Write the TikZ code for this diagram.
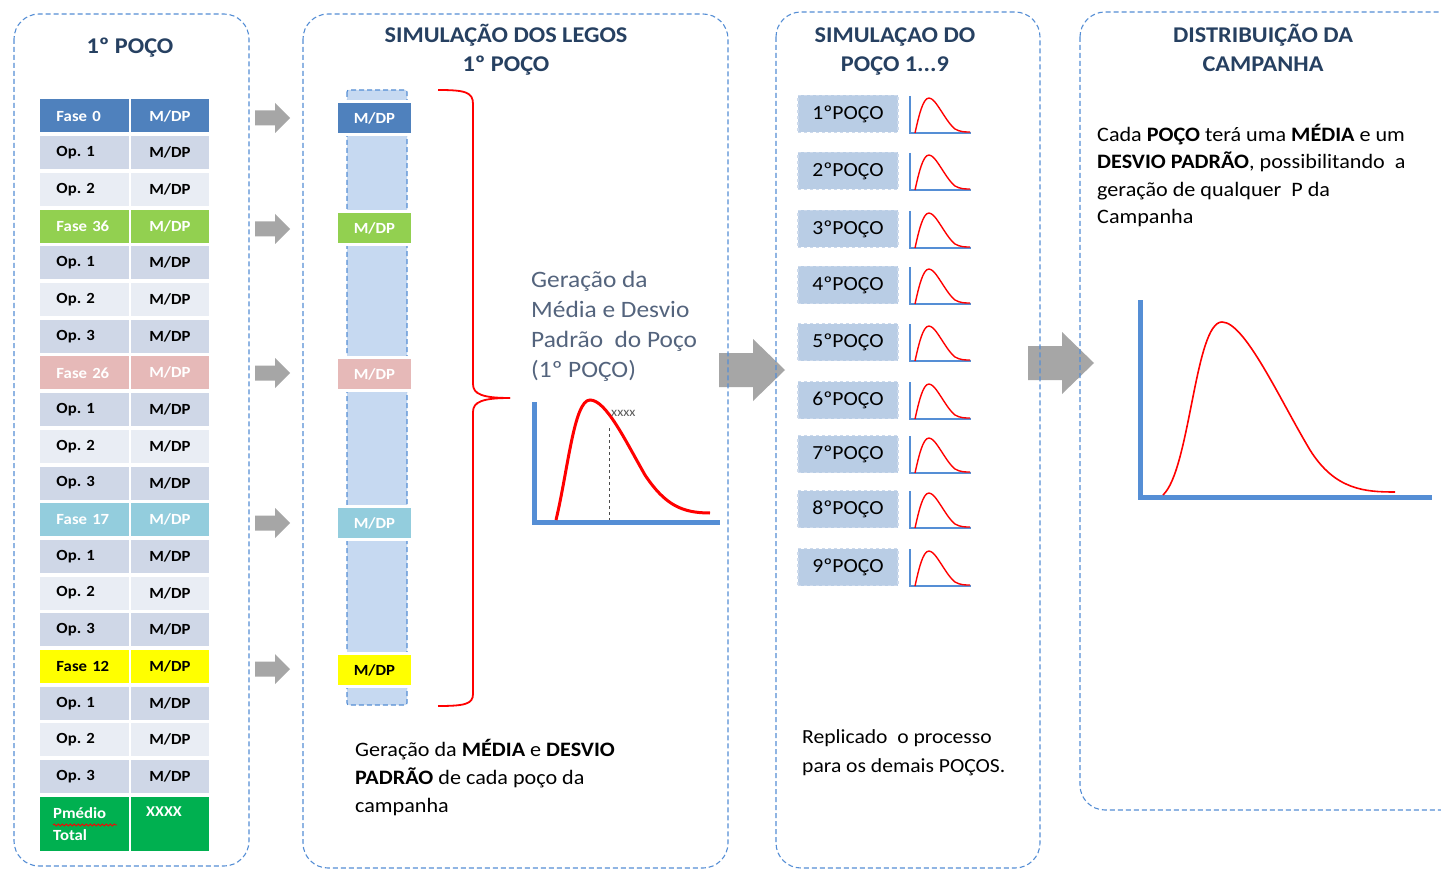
\documentclass[tikz,border=0pt]{standalone}
\usepackage{fontspec}
\setmainfont{Carlito}[FakeStretch=1.08]
\usetikzlibrary{decorations.pathmorphing}
\frenchspacing
\definecolor{framecol}{RGB}{85,142,213}
\definecolor{titlecol}{RGB}{38,64,97}
\definecolor{graytxt}{RGB}{84,100,125}
\definecolor{arrowgray}{RGB}{166,166,166}
\definecolor{fblue}{RGB}{79,129,189}
\definecolor{fgreen}{RGB}{146,208,80}
\definecolor{fpink}{RGB}{230,185,184}
\definecolor{flblue}{RGB}{147,205,221}
\definecolor{fyellow}{RGB}{255,255,0}
\definecolor{fdgreen}{RGB}{0,176,80}
\definecolor{opdark}{RGB}{207,215,231}
\definecolor{oplight}{RGB}{233,237,244}
\definecolor{barfill}{RGB}{198,217,241}
\definecolor{pocofill}{RGB}{185,205,229}
\definecolor{pocoedge}{RGB}{205,218,236}
\definecolor{axiscol}{RGB}{85,142,213}
\begin{document}
\frenchspacing
\begin{tikzpicture}[x=1pt,y=-1pt,
  frame/.style={draw=framecol,line width=1.1pt,dash pattern=on 5pt off 3pt,rounded corners=25pt},
  lcell/.style={minimum width=89pt,minimum height=33pt,inner sep=0pt,text width=74pt,align=left,font=\bfseries\fontsize{15.5}{19}\selectfont},
  rcell/.style={minimum width=78pt,minimum height=33pt,inner sep=0pt,align=center,font=\bfseries\fontsize{15.5}{19}\selectfont},
  mbox/.style={minimum width=75pt,minimum height=33pt,inner sep=0pt,draw=white,line width=2.5pt,font=\bfseries\fontsize{15.5}{19}\selectfont},
  ttl/.style={align=center,text=titlecol,font=\bfseries\fontsize{22.5}{29}\selectfont},
  para/.style={align=left,anchor=north west,inner sep=0pt,font=\fontsize{20.5}{28}\selectfont},
  pocobox/.style={fill=pocofill,draw=pocoedge,dashed,line width=1.5pt,minimum width=100pt,minimum height=37pt,inner sep=0pt,font=\fontsize{20}{22}\selectfont},
  brace/.style={draw=red,line width=1.8pt},
  smallarrow/.pic={\fill[arrowgray] (0,-7.5) -- (20,-7.5) -- (20,-15) -- (35,0) -- (20,15) -- (20,7.5) -- (0,7.5) -- cycle;},
  bigarrow/.pic={\fill[arrowgray] (0,-17) -- (34,-17) -- (34,-31) -- (66,0) -- (34,31) -- (34,17) -- (0,17) -- cycle;},
  minicurve/.pic={
    \draw[axiscol,line width=1.4pt] (0,-37) -- (0,0) -- (61,0);
    \draw[red,line width=1.4pt] (5,0) .. controls (9,-18) and (13,-35) .. (19,-35) .. controls (26,-35) and (35,-12) .. (45,-4) .. controls (50,-1) and (55,-1) .. (60,-1);}
]
\clip (0,0) rectangle (1441,869);
\fill[white] (0,0) rectangle (1441,869);

% ---------- column 1: table ----------
\node[ttl] (t1) at (130,48) {1º POÇO};
\foreach \i/\lab/\col/\tc in {0/Fase 0/fblue/white,1/Op. 1/opdark/black,2/Op. 2/oplight/black,
  3/Fase 36/fgreen/white,4/Op. 1/opdark/black,5/Op. 2/oplight/black,6/Op. 3/opdark/black,
  7/Fase 26/fpink/white,8/Op. 1/opdark/black,9/Op. 2/oplight/black,10/Op. 3/opdark/black,
  11/Fase 17/flblue/white,12/Op. 1/opdark/black,13/Op. 2/oplight/black,14/Op. 3/opdark/black,
  15/Fase 12/fyellow/black,16/Op. 1/opdark/black,17/Op. 2/oplight/black,18/Op. 3/opdark/black}{
  \node[lcell,fill=\col,text=\tc] (L\i) at (84.5,{116+\i*36.7}) {\hspace*{9pt}\lab};
  \node[rcell,fill=\col,text=\tc] (R\i) at (170,{116+\i*36.7}) {M/DP};
}
\node[fill=fdgreen,minimum width=89pt,minimum height=54pt,inner sep=0pt] (Lp) at (84.5,824) {};
\node[fill=fdgreen,minimum width=78pt,minimum height=54pt,inner sep=0pt] (Rp) at (170,824) {};
\node[anchor=north west,inner sep=0pt,align=left,text=white,font=\bfseries\fontsize{15.5}{22}\selectfont] (pm) at (53,807) {Pmédio\\Total};
\draw[red,line width=0.8pt,decorate,decoration={snake,amplitude=1.1pt,segment length=4pt}] (53,825) -- (117,825);
\node[anchor=north,inner sep=0pt,text=white,font=\bfseries\fontsize{15}{18}\selectfont] (xx) at (164,807) {XXXX};

% small arrows
\foreach \yy in {118,229,373,523,669}{\pic at (255,\yy) {smallarrow};}

% ---------- column 2 ----------
\node[ttl] (t2) at (506,50) {SIMULAÇÃO DOS LEGOS\\1º POÇO};
\draw[fill=barfill,draw=framecol,line width=1.1pt,dash pattern=on 5pt off 3pt,rounded corners=2pt] (347,90) rectangle (407,705);
\node[mbox,fill=fblue,text=white] (m1) at (374.5,118) {M/DP};
\node[mbox,fill=fgreen,text=white] (m2) at (374.5,228) {M/DP};
\node[mbox,fill=fpink,text=white] (m3) at (374.5,374) {M/DP};
\node[mbox,fill=flblue,text=white] (m4) at (374.5,523) {M/DP};
\node[mbox,fill=fyellow,text=black] (m5) at (374.5,670) {M/DP};
\draw[brace] (438,90) .. controls (465,90) and (473,92) .. (473,104) -- (473,384) .. controls (473,394) and (482,398) .. (510,398);
\draw[brace] (510,398) .. controls (482,398) and (473,402) .. (473,412) -- (473,694) .. controls (473,704) and (465,706) .. (438,706);
\node[para,text=graytxt,font=\fontsize{23.5}{30}\selectfont] (gm) at (531,271) {Geração da\\Média e Desvio\\Padrão\ \ do Poço\\(1º POÇO)};
\draw[axiscol,line width=5pt] (534,402) -- (534,522) -- (720,522);
\draw[black!70,dashed,line width=0.8pt] (609,428) -- (609,520);
\draw[red,line width=3pt] (556,520) .. controls (568,470) and (574,400) .. (590,400) .. controls (606,400) and (625,440) .. (645,475) .. controls (665,505) and (682,513) .. (710,513);
\node[anchor=west,inner sep=0pt,text=black!65,font=\fontsize{13}{15}\selectfont] (xl) at (611,413) {xxxx};
\node[para] (p2) at (355,739) {Geração da \textbf{MÉDIA} e \textbf{DESVIO}\\\textbf{PADRÃO} de cada poço da\\campanha};

\pic at (719,370) {bigarrow};

% ---------- column 3 ----------
\node[ttl] (t3) at (895,52) {SIMULAÇAO DO\\POÇO 1...9};
\foreach \i/\yy in {1/114,2/171,3/229,4/285,5/342,6/400,7/454,8/509,9/567}{
  \node[pocobox] (pc\i) at (848,\yy) {\i ºPOÇO};
  \pic at (910,{\yy+19}) {minicurve};
}
\node[para,font=\fontsize{20}{29}\selectfont] (p3) at (802,729) {Replicado\ \ o processo\\para os demais POÇOS.};

\pic at (1028,363) {bigarrow};

% ---------- column 4 ----------
\node[ttl] (t4) at (1263,48) {DISTRIBUIÇÃO DA\\CAMPANHA};
\node[para,font=\fontsize{20.5}{27.5}\selectfont] (p4) at (1097,124) {Cada \textbf{POÇO} terá uma \textbf{MÉDIA} e um\\\textbf{DESVIO PADRÃO}, possibilitando\ \ a\\geração de qualquer\ \ P da\\Campanha};
\draw[axiscol,line width=5pt] (1140,300) -- (1140,497) -- (1432,497);
\draw[red,line width=1.6pt] (1163,495) .. controls (1190,470) and (1195,322) .. (1222,322) .. controls (1245,322) and (1280,400) .. (1310,450) .. controls (1335,490) and (1365,492) .. (1395,492);

% ---------- frames ----------
\draw[frame] (14,14) rectangle (249,866);
\draw[frame] (303,14) rectangle (728,868);
\draw[frame] (776,12) rectangle (1040,868);
\draw[frame] (1080,12) rectangle (1470,810);
\end{tikzpicture}
\end{document}
